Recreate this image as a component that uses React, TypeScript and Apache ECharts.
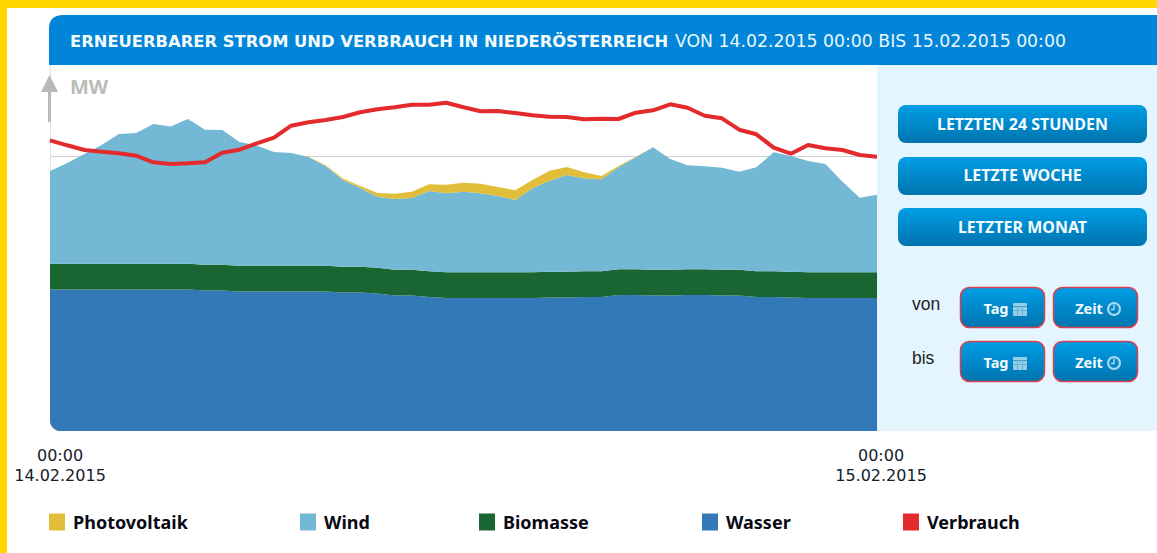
import React, { useEffect, useRef } from "react";
import * as echarts from "echarts";

const times = [
  "00:00","00:30","01:00","01:30","02:00","02:30","03:00","03:30","04:00","04:30",
  "05:00","05:30","06:00","06:30","07:00","07:30","08:00","08:30","09:00","09:30",
  "10:00","10:30","11:00","11:30","12:00","12:30","13:00","13:30","14:00","14:30",
  "15:00","15:30","16:00","16:30","17:00","17:30","18:00","18:30","19:00","19:30",
  "20:00","20:30","21:00","21:30","22:00","22:30","23:00","23:30","00:00",
];
const startDate = "14.02.2015";
const endDate = "15.02.2015";

const wasser = [
  141.5,141.5,141.5,141.5,141.5,141.5,141.5,141.5,141.5,140.5,
  140.5,139.5,139.5,139.5,139.5,139.5,139.5,138.5,138.5,137.5,
  135.5,135.5,134,133,133,133,133,133,133,133.5,
  133.5,134,134,136,136,135.5,135.5,136,136,135.5,
  135.5,134,134,133.5,133,133,133,133,133,
];
const biomasse = [
  25.7,25.7,25.7,25.7,25.7,25.7,25.7,25.7,25.7,25.7,
  25.7,25.7,25.7,25.7,25.7,25.7,25.7,25.7,25.7,25.7,
  25.7,25.7,25.7,25.7,25.7,25.7,25.7,25.7,25.7,25.7,
  25.7,25.7,25.7,25.7,25.7,25.7,25.7,25.7,25.7,25.7,
  25.7,25.7,25.7,25.7,25.7,25.7,25.7,25.7,25.7,
];
const wind = [
  92.8,100.8,109.8,118.8,129.8,130.8,139.8,137.3,144.8,135.1,
  134.8,123.8,120.3,113.8,112.8,108.8,99.8,86.8,78.8,71.1,
  70.8,71.8,80.3,79,80.6,79,76.3,72.3,84,91.1,
  96.8,93,92,102,112,122.5,110.8,104,103,102.1,
  98.1,104,119,115.8,111.3,108.3,90.6,74.6,77.6,
];
const photovoltaik = [
  0,0,0,0,0,0,0,0,0,0,
  0,0,0,0,0,0.3,0.8,1.5,2,3.7,
  5.3,6.3,6.7,8.6,9,9.6,9,9.7,8.3,10,
  8,6,3.3,1.3,0.5,0,0,0,0,0,
  0,0,0,0,0,0,0,0,0,
];
const verbrauch = [
  290.7,285.7,281,279.3,277.7,275.3,268.7,267,267.7,268.7,
  278.3,281.3,287.7,293.3,305.3,308.7,311,314,318.7,321.7,
  323.7,326.3,326.3,328.3,323.7,319.7,320,318,315.7,314.3,
  314,311.7,312.3,312,318.3,320.7,326.7,323.3,315.3,312.7,
  301.3,296.7,283.3,277.3,286,282.7,281,276,274.3,
];

const headerBold = "ERNEUERBARER STROM UND VERBRAUCH IN NIEDERÖSTERREICH";
const headerRange = "VON 14.02.2015 00:00 BIS 15.02.2015 00:00";
const rangeButtons = ["LETZTEN 24 STUNDEN", "LETZTE WOCHE", "LETZTER MONAT"];
const pickerRows = ["von", "bis"];

const YELLOW = "#FFD700";
const C_PV = "#E0BE3A";
const C_WIND = "#73B8D5";
const C_BIO = "#196633";
const C_WASSER = "#3379B7";
const C_VER = "#E32A2C";
const UI = "DejaVu Sans";
const BOLD = "Noto Sans";

echarts.graphic.registerShape(
  "cornerBL",
  echarts.graphic.extendPath("M0 0 L0 14 L14 14 Q0 14 0 0 Z", {})
);
echarts.graphic.registerShape(
  "cornerTL",
  echarts.graphic.extendPath("M0 0 L14 0 Q0 0 0 14 Z", {})
);

const btnFill = () =>
  new echarts.graphic.LinearGradient(0, 0, 0, 1, [
    { offset: 0, color: "#009EE6" },
    { offset: 1, color: "#0074AE" },
  ]);

function wideButton(label: string, y: number, textDy: number) {
  return [
    { type: "rect", z: 50, shape: { x: 898, y, width: 249, height: 38, r: 8 }, style: { fill: btnFill() } },
    {
      type: "text", z: 51, x: 1022.5, y: y + textDy,
      style: { text: label, fill: "#F4FBFF", font: `700 16px ${BOLD}`, align: "center", verticalAlign: "middle" },
    },
  ];
}

function smallButton(label: string, x: number, y: number, kind: "cal" | "clock") {
  const iconCol = "#94CEE8";
  const els: any[] = [
    {
      type: "rect", z: 50, shape: { x: x + 0.5, y: y + 0.5, width: 84, height: 40, r: 9 },
      style: { fill: btnFill(), stroke: "#D8414F", lineWidth: 1.5 },
    },
    {
      type: "text", z: 51, x: x + 36, y: y + 20.5,
      style: { text: label, fill: "#F4FBFF", font: `700 14.5px ${BOLD}`, align: "center", verticalAlign: "middle" },
    },
  ];
  if (kind === "cal") {
    els.push(
      { type: "rect", z: 51, shape: { x: x + 53, y: y + 16, width: 14, height: 13, r: 1 }, style: { fill: iconCol } },
      { type: "rect", z: 51, shape: { x: x + 53, y: y + 19, width: 14, height: 1 }, style: { fill: "#3D9CCB" } },
      { type: "rect", z: 51, shape: { x: x + 53, y: y + 23, width: 14, height: 1 }, style: { fill: "#6FB4D6" } },
      { type: "rect", z: 51, shape: { x: x + 57, y: y + 19, width: 1, height: 10 }, style: { fill: "#6FB4D6" } },
      { type: "rect", z: 51, shape: { x: x + 62, y: y + 19, width: 1, height: 10 }, style: { fill: "#6FB4D6" } }
    );
  } else {
    els.push(
      { type: "ring", z: 51, shape: { cx: x + 61, cy: y + 22, r: 7, r0: 4.8 }, style: { fill: "#A9D9EE" } },
      { type: "polyline", z: 51, shape: { points: [[x + 61, y + 18], [x + 61, y + 22.5], [x + 58, y + 22.5]] }, style: { stroke: "#A9D9EE", fill: "none", lineWidth: 1.5 } }
    );
  }
  return els;
}

const legendItem = (name: string, left: number) => ({
  data: [{ name, icon: "rect" }],
  left,
  top: 513,
  itemWidth: 16,
  itemHeight: 17,
  selectedMode: false,
  padding: 0,
  textStyle: { color: "#0A0A14", fontFamily: BOLD, fontWeight: 700, fontSize: 18, padding: [3, 0, 0, 3] },
});

function App() {
  const ref = useRef<HTMLDivElement>(null);
  useEffect(() => {
    const chart = echarts.init(ref.current!, null, { renderer: "svg" });
    const area = (name: string, data: number[], color: string) => ({
      name,
      type: "line",
      stack: "gen",
      data,
      symbol: "none",
      lineStyle: { width: 0 },
      itemStyle: { color },
      areaStyle: { color, opacity: 1 },
    });
    chart.setOption({
      animation: false,
      backgroundColor: "#fff",
      grid: { left: 50, right: 280, top: 65, bottom: 122, outerBoundsMode: "none" },
      legend: [
        legendItem("Photovoltaik", 49),
        legendItem("Wind", 300),
        legendItem("Biomasse", 479),
        legendItem("Wasser", 702),
        legendItem("Verbrauch", 903),
      ],
      xAxis: {
        type: "category",
        boundaryGap: false,
        data: times,
        axisLine: { show: false },
        axisTick: { show: false },
        splitLine: { show: false },
        axisLabel: {
          interval: (i: number) => i === 0 || i === times.length - 1,
          margin: 14,
          hideOverlap: false,
          showMinLabel: true,
          showMaxLabel: true,
          formatter: (v: string, i: number) =>
            i === 0 ? `{a|${v}}\n{a|${startDate}}` : `{b|${v}}\n{b|${endDate}}`,
          rich: {
            a: { fontFamily: UI, fontSize: 16, color: "#15202B", lineHeight: 20, padding: [0, 0, 0, 20] },
            b: { fontFamily: UI, fontSize: 16, color: "#15202B", lineHeight: 20, padding: [0, 0, 0, 8] },
          },
        },
      },
      yAxis: {
        type: "value",
        min: 0,
        max: 366,
        interval: 275,
        name: "MW",
        nameLocation: "end",
        nameGap: -11,
        nameTextStyle: {
          color: "#B9BCB8", fontFamily: BOLD, fontWeight: 700, fontSize: 20,
          align: "left", verticalAlign: "top", padding: [0, 0, 0, 20],
        },
        axisLabel: { show: false },
        axisTick: { show: false },
        axisLine: { show: true, lineStyle: { color: "#E2E2E2", width: 1 } },
        splitLine: { show: true, showMinLine: false, showMaxLine: false, lineStyle: { color: "#CFCFCF", width: 1 } },
      },
      series: [
        area("Wasser", wasser, C_WASSER),
        area("Biomasse", biomasse, C_BIO),
        area("Wind", wind, C_WIND),
        area("Photovoltaik", photovoltaik, C_PV),
        {
          name: "Verbrauch",
          type: "line",
          data: verbrauch,
          symbol: "none",
          z: 5,
          lineStyle: { color: C_VER, width: 4 },
          itemStyle: { color: C_VER },
        },
      ],
      graphic: { elements: [
        { type: "rect", z: 60, shape: { x: 0, y: 0, width: 1157, height: 8 }, style: { fill: YELLOW } },
        { type: "rect", z: 60, shape: { x: 0, y: 0, width: 7, height: 553 }, style: { fill: YELLOW } },
        { type: "rect", z: 40, shape: { x: 49, y: 15, width: 1108, height: 50 }, style: { fill: "#0085D9" } },
        { type: "cornerTL", z: 41, x: 49, y: 15, style: { fill: "#fff" } },
        { type: "cornerBL", z: 41, x: 49.5, y: 417.5, style: { fill: "#fff" } },
        { type: "rect", z: 40, shape: { x: 877, y: 65, width: 280, height: 366 }, style: { fill: "#E4F5FE" } },
        {
          type: "text", z: 42, x: 70, y: 41,
          style: { text: headerBold, fill: "#F4FBFF", font: `700 16.35px ${UI}`, verticalAlign: "middle" },
        },
        {
          type: "text", z: 42, x: 675, y: 41,
          style: { text: headerRange, fill: "#EAF6FD", font: `400 17.3px ${UI}`, verticalAlign: "middle" },
        },
        { type: "polygon", z: 45, shape: { points: [[41, 92], [49.5, 75], [58, 92]] }, style: { fill: "#B7BAB6" } },
        { type: "rect", z: 45, shape: { x: 48, y: 92, width: 3, height: 30 }, style: { fill: "#B7BAB6" } },
        ...wideButton(rangeButtons[0], 105, 18.5),
        ...wideButton(rangeButtons[1], 157, 17.5),
        ...wideButton(rangeButtons[2], 208, 18.5),
        { type: "text", z: 51, x: 912, y: 304, style: { text: pickerRows[0], fill: "#222", font: "17.5px 'Liberation Sans'", verticalAlign: "middle" } },
        { type: "text", z: 51, x: 912, y: 358, style: { text: pickerRows[1], fill: "#222", font: "17.5px 'Liberation Sans'", verticalAlign: "middle" } },
        ...smallButton("Tag", 960, 287, "cal"),
        ...smallButton("Zeit", 1053, 287, "clock"),
        ...smallButton("Tag", 960, 341, "cal"),
        ...smallButton("Zeit", 1053, 341, "clock"),
      ] },
    });
    return () => chart.dispose();
  }, []);
  return <div ref={ref} style={{ position: "absolute", left: 0, top: 0, width: 1157, height: 553 }} />;
}

export default App;
